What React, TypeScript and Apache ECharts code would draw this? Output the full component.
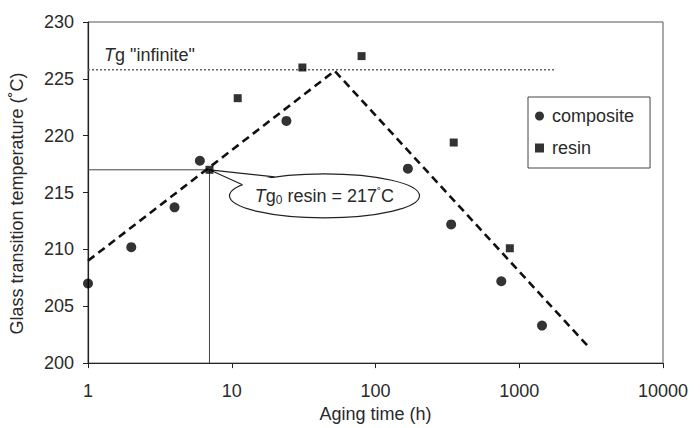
import React, { useEffect, useRef } from "react";
import * as echarts from "echarts";

// Aging time (h) and glass transition temperature (°C)
const compositeTime = [1, 2, 4, 6, 24, 168, 336, 750, 1440];
const compositeTg = [207.0, 210.2, 213.7, 217.8, 221.3, 217.1, 212.2, 207.2, 203.3];
const resinTime = [7, 11, 31, 80, 350, 860];
const resinTg = [217.0, 223.3, 226.0, 227.0, 219.4, 210.1];

// Two-branch trend (rise then decay)
const trendTime = [1, 52, 3000];
const trendTg = [209.0, 225.7, 201.5];

// Plateau and initial resin Tg guides
const tgInfinite = 225.8;
const tgInfiniteSpan = [1, 1800];
const tg0Resin = 217;
const tg0Time = 7;

const yTicks = { min: 200, max: 230, interval: 5 };
const xRange = { min: 1, max: 10000 };

const FONT = "'Liberation Sans', Arial, sans-serif";
const TXT = "#2a2a2a";
const FS = 18;

export default function App() {
  const ref = useRef<HTMLDivElement>(null);

  useEffect(() => {
    if (!ref.current) return;
    const chart = echarts.init(ref.current, undefined, { renderer: "svg" });

    const zip = (xs: number[], ys: number[]) => xs.map((x, i) => [x, ys[i]]);

    chart.setOption({
      animation: false,
      backgroundColor: "#fff",
      textStyle: { fontFamily: FONT },
      grid: {
        left: 88,
        right: 37,
        top: 22,
        bottom: 64,
        show: true,
        borderColor: "#555",
        borderWidth: 1,
      },
      legend: {
        data: [
          { name: "composite", icon: "circle" },
          { name: "resin", icon: "rect" },
        ],
        orient: "vertical",
        left: 528,
        top: 97,
        padding: [10, 16, 11, 7],
        itemGap: 14,
        itemWidth: 9,
        itemHeight: 9,
        borderColor: "#444",
        borderWidth: 1,
        backgroundColor: "#fff",
        textStyle: { fontFamily: FONT, fontSize: FS, color: TXT, padding: [0, 0, 0, 3] },
      },
      xAxis: {
        type: "log",
        logBase: 10,
        min: xRange.min,
        max: xRange.max,
        name: "Aging time (h)",
        nameLocation: "middle",
        nameGap: 34,
        nameTextStyle: { fontFamily: FONT, fontSize: FS, color: TXT },
        axisLine: { lineStyle: { color: "#222", width: 1.2 } },
        axisTick: { show: true, length: 5, lineStyle: { color: "#222" } },
        minorTick: { show: false },
        splitLine: { show: false },
        axisLabel: {
          fontFamily: FONT,
          fontSize: FS,
          color: TXT,
          margin: 19,
          formatter: (v: number) => String(Math.round(v)),
        },
      },
      yAxis: {
        type: "value",
        min: yTicks.min,
        max: yTicks.max,
        interval: yTicks.interval,
        name: "Glass transition temperature (˚C)",
        nameLocation: "middle",
        nameGap: 62,
        nameTextStyle: { fontFamily: FONT, fontSize: FS, color: TXT, padding: [0, 22, 0, 0] },
        axisLine: { show: true, lineStyle: { color: "#222", width: 1.2 } },
        axisTick: { show: true, length: 5, lineStyle: { color: "#222" } },
        splitLine: { show: false },
        axisLabel: { fontFamily: FONT, fontSize: FS, color: TXT, margin: 14 },
      },
      series: [
        {
          name: "Tg infinite",
          type: "line",
          data: zip(tgInfiniteSpan, [tgInfinite, tgInfinite]),
          symbol: "none",
          lineStyle: { color: "#666", width: 1.4, type: [2, 2] },
          z: 1,
        },
        {
          name: "Tg0 guide",
          type: "line",
          data: [
            [xRange.min, tg0Resin],
            [tg0Time, tg0Resin],
            [tg0Time, yTicks.min],
          ],
          symbol: "none",
          lineStyle: { color: "#444", width: 1 },
          z: 1,
        },
        {
          name: "trend",
          type: "line",
          data: zip(trendTime, trendTg),
          symbol: "none",
          lineStyle: { color: "#111", width: 2.6, type: [8, 5] },
          z: 2,
        },
        {
          name: "composite",
          type: "scatter",
          symbol: "circle",
          symbolSize: 10,
          data: zip(compositeTime, compositeTg),
          itemStyle: { color: "#000" },
          z: 5,
        },
        {
          name: "resin",
          type: "scatter",
          symbol: "rect",
          symbolSize: 8,
          data: zip(resinTime, resinTg),
          itemStyle: { color: "#000" },
          z: 5,
        },
      ],
    });

    // Annotations anchored to data positions
    const tip = chart.convertToPixel({ gridIndex: 0 }, [tg0Time, tg0Resin]) as number[];
    const plateau = chart.convertToPixel({ gridIndex: 0 }, [xRange.min, tgInfinite]) as number[];
    const cx = tip[0] + 115;
    const cy = tip[1] + 26;
    const rx = 95;
    const ry = 22;
    const a = [cx - 82, cy - 11];
    const b = [cx - 50, cy - 19];

    chart.setOption({
      graphic: [
        {
          type: "text",
          x: plateau[0] + 16,
          y: plateau[1] - 15,
          style: {
            text: "{i|T}g \"infinite\"",
            fontFamily: FONT,
            fontSize: FS,
            fill: TXT,
            verticalAlign: "middle",
            rich: {
              i: { fontFamily: FONT, fontSize: FS, fontStyle: "italic", fill: TXT },
            },
          },
        },
        {
          type: "ellipse",
          z: 1,
          z2: 0,
          shape: { cx, cy, rx, ry },
          style: { fill: "#fff", stroke: "#222", lineWidth: 1.2 },
        },
        {
          type: "polygon",
          z: 1,
          z2: 1,
          shape: {
            points: [
              [tip[0], tip[1]],
              [a[0] + 2, a[1] + 1],
              [b[0] + 1, b[1] + 2],
            ],
          },
          style: { fill: "#fff", stroke: null },
        },
        {
          type: "polyline",
          z: 1,
          z2: 2,
          shape: { points: [a, [tip[0], tip[1]], b] },
          style: { fill: null, stroke: "#222", lineWidth: 1.2 },
        },
        {
          type: "text",
          z: 1,
          z2: 3,
          x: cx,
          y: cy,
          style: {
            text: "{i|T}g{s|0} resin = 217{d|˚}C",
            fontFamily: FONT,
            fontSize: FS,
            fill: TXT,
            align: "center",
            verticalAlign: "middle",
            rich: {
              i: { fontFamily: FONT, fontSize: FS, fontStyle: "italic", fill: TXT },
              s: { fontFamily: FONT, fontSize: 12, fill: TXT, padding: [8, 0, 0, 0] },
              d: { fontFamily: FONT, fontSize: 12, fill: TXT, padding: [0, 0, 6, 0] },
            },
          },
        },
      ],
    });

    return () => chart.dispose();
  }, []);

  return (
    <div
      ref={ref}
      style={{ position: "fixed", left: 0, top: 0, width: 700, height: 428 }}
    />
  );
}
